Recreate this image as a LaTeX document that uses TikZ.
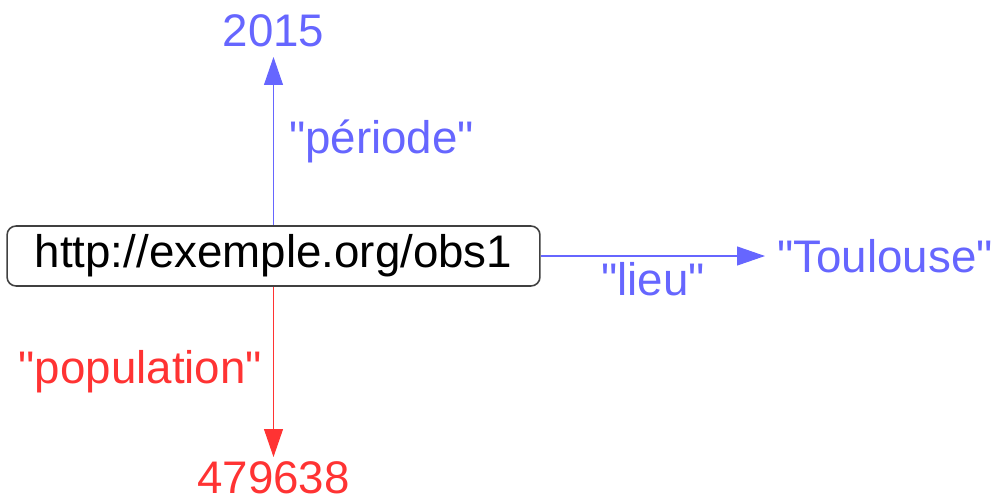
\documentclass[tikz,border=0pt]{standalone}
\usepackage{fontspec}
\setmainfont{Liberation Sans}
\usetikzlibrary{arrows.meta}
\definecolor{rdfblue}{RGB}{102,102,255}
\definecolor{rdfred}{RGB}{255,51,51}
\newcommand{\qq}[1]{\textquotedbl#1\textquotedbl}

\begin{document}
\begin{tikzpicture}[x=0.02cm, y=-0.02cm,
	font=\fontsize{26}{31}\selectfont,
	resource/.style={draw=black!75, line width=0.9pt, rounded corners=0.18cm,
		minimum width=10.66cm, minimum height=1.2cm, inner sep=0pt},
	literal/.style={inner sep=0.2cm},
	bluearc/.style={rdfblue, line width=0.6pt, -{Triangle[length=0.56cm, width=0.38cm]}},
	redarc/.style={rdfred, line width=0.6pt, -{Triangle[length=0.56cm, width=0.38cm]}}]

	\useasboundingbox (0,0) rectangle (1000,501);

	% subject
	\node[resource] (obs) at (273.5,256) {http://exemple.org/obs1};

	% objects
	\node[literal, text=rdfblue, anchor=south] (year) at (273.5,57) {2015};
	\node[literal, text=rdfblue, anchor=west, inner sep=0.24cm] (city) at (765,256) {\qq{Toulouse}};
	\node[literal, text=rdfred, anchor=north, inner sep=0.08cm] (pop) at (273.5,457) {479638};

	% properties
	\draw[bluearc] (obs.north) -- (year.south)
		node[midway, right, inner sep=0.3cm, text=rdfblue] {\qq{période}};
	\draw[bluearc] (obs.east) -- (city.west)
		node[midway, below, text=rdfblue] {\qq{lieu}};
	\draw[redarc] (obs.south) -- (pop.north)
		node[midway, left, inner sep=0.22cm, text=rdfred] {\qq{population}};

\end{tikzpicture}
\end{document}
